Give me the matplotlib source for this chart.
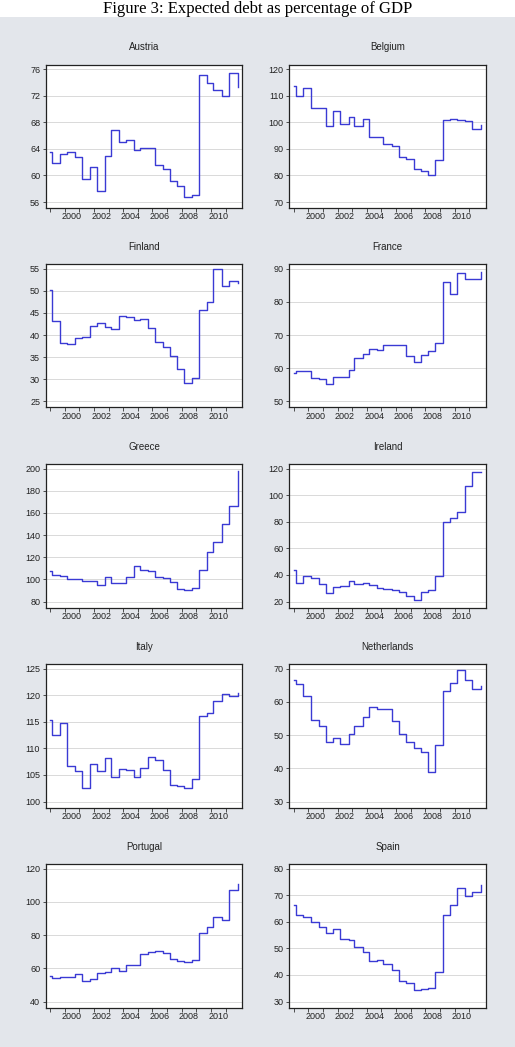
import matplotlib
matplotlib.use('Agg')
import matplotlib.pyplot as plt
from matplotlib.patches import Rectangle
import numpy as np

plt.rcParams['font.family'] = 'Liberation Sans'
plt.rcParams['font.size'] = 6.5

# dates where the expected debt ratio changes (last one = end of sample)
dates = [1999.0, 1999.13, 1999.67, 2000.15, 2000.7, 2001.18, 2001.72, 2002.18,
         2002.75, 2003.15, 2003.72, 2004.17, 2004.72, 2005.13, 2005.7, 2006.17,
         2006.7, 2007.2, 2007.7, 2008.18, 2008.68, 2009.18, 2009.7, 2010.17,
         2010.72, 2011.22, 2011.73, 2011.83]

austria = [63.6, 61.9, 63.2, 63.6, 62.8, 59.4, 61.2, 57.6, 63.0, 66.8, 65.1, 65.3, 63.9, 64.1,
           64.2, 61.6, 60.9, 59.2, 58.4, 56.8, 57.1, 75.2, 73.9, 72.9, 72.0, 75.4, 75.4, 73.3]
belgium = [113.8, 109.8, 113.1, 105.4, 105.4, 98.8, 104.1, 99.5, 102.0, 98.8, 101.2, 94.4, 94.5, 91.8,
           91.2, 87.0, 86.3, 82.5, 81.7, 80.0, 86.0, 101.0, 101.4, 101.0, 100.6, 97.6, 97.6, 99.0]
finland = [50.2, 43.2, 38.3, 37.9, 39.3, 39.5, 42.0, 42.8, 41.9, 41.4, 44.4, 44.2, 43.5, 43.7,
           41.6, 38.4, 37.3, 35.2, 32.4, 29.1, 30.2, 45.7, 47.5, 54.9, 51.1, 52.2, 52.2, 51.8]
france = [58.5, 59.3, 59.1, 57.2, 56.9, 55.3, 57.4, 57.4, 59.4, 63.1, 64.3, 65.7, 65.6, 67.1,
          67.1, 67.0, 63.8, 61.8, 64.1, 65.1, 67.7, 86.0, 82.4, 88.7, 86.9, 86.9, 86.9, 89.1]
greece = [107.2, 103.9, 103.0, 100.3, 100.0, 98.2, 98.5, 95.2, 102.1, 97.0, 97.0, 101.8, 112.0, 108.7,
          107.2, 102.1, 100.9, 97.9, 91.6, 90.4, 92.2, 108.1, 125.0, 134.0, 150.0, 166.3, 166.3, 197.6]
ireland = [44.0, 34.1, 39.2, 37.9, 33.1, 26.3, 30.6, 31.4, 35.2, 33.1, 33.9, 32.4, 30.4, 29.6,
           28.8, 26.8, 24.5, 21.5, 26.8, 28.8, 39.0, 79.6, 82.6, 87.2, 106.9, 117.7, 117.7, 117.4]
italy = [115.4, 112.5, 114.7, 106.6, 105.8, 102.6, 107.0, 105.7, 108.1, 104.7, 106.2, 106.0, 104.6, 106.3,
         108.3, 107.8, 106.0, 103.2, 103.0, 102.6, 104.3, 116.1, 116.7, 118.9, 120.2, 119.8, 119.8, 120.4]
netherlands = [66.6, 65.4, 61.7, 54.5, 52.7, 47.9, 49.0, 47.4, 50.2, 52.8, 55.5, 58.6, 58.0, 57.9,
               54.1, 50.3, 47.8, 46.0, 44.8, 39.0, 47.0, 63.2, 65.7, 69.6, 66.6, 64.0, 64.0, 64.9]
portugal = [55.4, 54.0, 54.5, 55.0, 56.4, 52.3, 53.3, 57.2, 58.0, 60.4, 58.4, 62.0, 62.0, 68.5,
            69.7, 70.5, 69.3, 65.9, 64.6, 64.0, 65.3, 81.4, 84.6, 91.1, 88.9, 107.3, 107.3, 110.9]
spain = [66.3, 62.4, 62.0, 60.0, 58.2, 55.9, 57.4, 53.6, 53.2, 50.5, 48.8, 45.1, 45.5, 44.2,
         42.0, 37.9, 37.1, 34.5, 34.6, 35.2, 41.1, 62.4, 66.3, 72.6, 69.7, 71.1, 71.1, 73.8]

countries = ['Austria', 'Belgium', 'Finland', 'France', 'Greece',
             'Ireland', 'Italy', 'Netherlands', 'Portugal', 'Spain']
series = [austria, belgium, finland, france, greece,
          ireland, italy, netherlands, portugal, spain]
yticks = [np.arange(56, 77, 4), np.arange(70, 121, 10), np.arange(25, 56, 5),
          np.arange(50, 91, 10), np.arange(80, 201, 20), np.arange(20, 121, 20),
          np.arange(100, 126, 5), np.arange(30, 71, 10), np.arange(40, 121, 20),
          np.arange(30, 81, 10)]

year_ticks = np.arange(1999, 2012)
label_years = np.arange(2000, 2011, 2)

W, H = 515, 1047
fig = plt.figure(figsize=(W / 100, H / 100), dpi=100)
fig.patch.set_facecolor('white')
fig.add_artist(Rectangle((0, 0), 1, 1 - 17 / H, transform=fig.transFigure,
                         facecolor='#e3e6eb', edgecolor='none', zorder=0))
fig.text(0.5, 1 - 9 / H, 'Figure 3: Expected debt as percentage of GDP',
         ha='center', va='center', fontsize=12, family='Liberation Serif')

lefts = [45.7, 289.3]
tops = [64.5, 264, 464, 664, 864]
aw, ah = 196.6, 143.5

for i, (name, vals, yt) in enumerate(zip(countries, series, yticks)):
    r, c = divmod(i, 2)
    ax = fig.add_axes([lefts[c] / W, 1 - (tops[r] + ah) / H, aw / W, ah / H])
    ax.set_facecolor('white')
    ax.plot(dates, vals, drawstyle='steps-post', color='#3a3ad4', lw=1.0, zorder=3)

    # y range: ticks span the plot height minus small margins
    u = (yt[-1] - yt[0]) / (ah - 10.7)
    ax.set_ylim(yt[0] - 6 * u, yt[-1] + 4.7 * u)
    ax.set_yticks(yt)
    ax.yaxis.grid(True, color='#d9d9d9', lw=0.7)
    ax.set_axisbelow(True)

    ax.set_xlim(1998.70, 2012.14)
    ax.set_xticks(year_ticks)
    ax.set_xticklabels([])
    ax.set_xticks(label_years + 0.5, minor=True)
    ax.set_xticklabels([str(y) for y in label_years], minor=True)
    ax.tick_params(axis='x', which='major', length=3, width=0.6, color='#333333')
    ax.tick_params(axis='x', which='minor', length=0, pad=3, labelcolor='#222222')
    ax.tick_params(axis='y', length=2.5, width=0.6, pad=1.5, color='#333333', labelcolor='#222222')

    for s in ax.spines.values():
        s.set_linewidth(0.9)
        s.set_color('#222222')

    ax.text(0.5, 1 + 17 / ah, name, transform=ax.transAxes, ha='center',
            va='center', fontsize=7, color='#222222')

fig.savefig('out.png', dpi=100)
